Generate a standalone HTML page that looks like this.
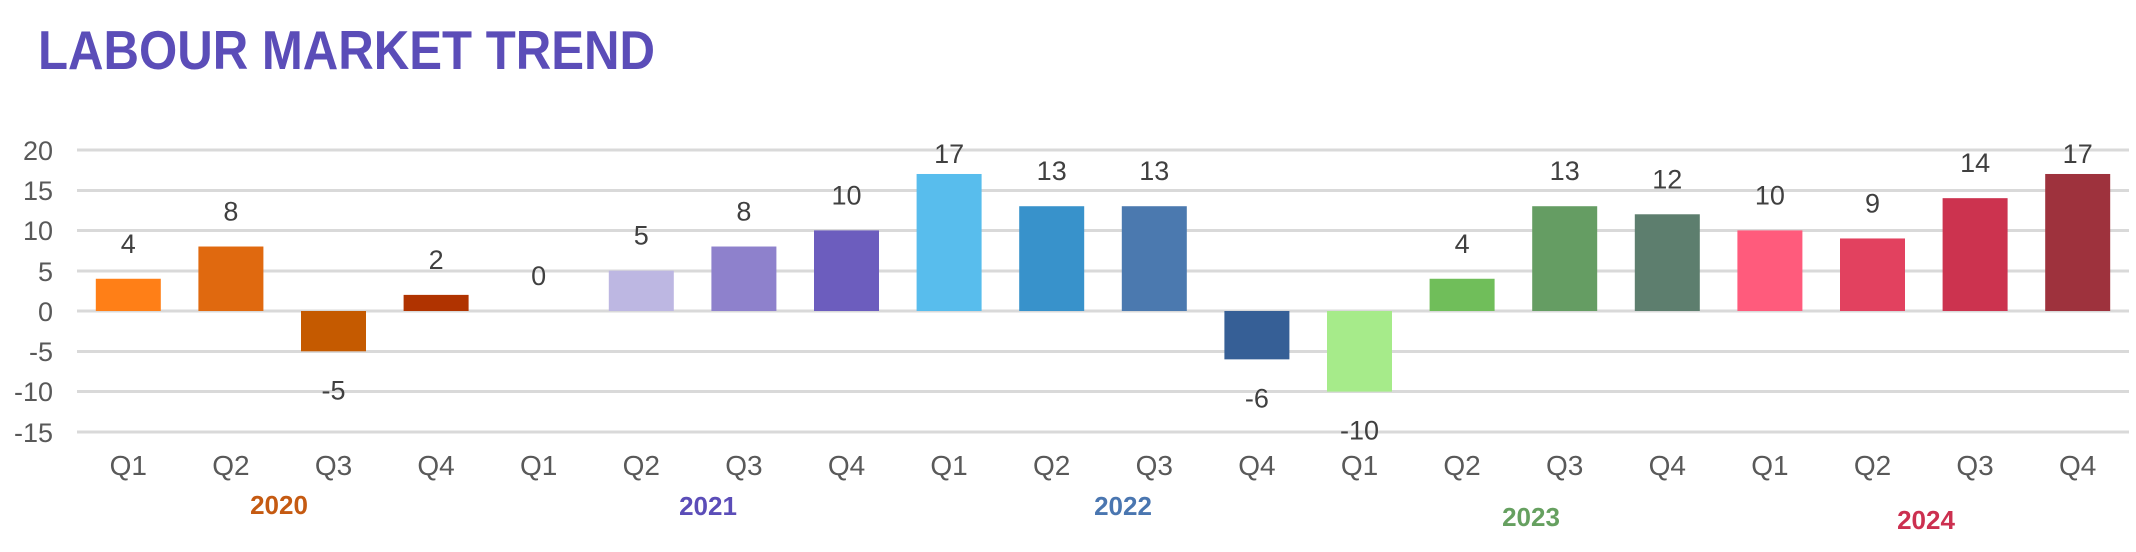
<!DOCTYPE html>
<html><head><meta charset="utf-8"><style>
html,body{margin:0;padding:0;background:#fff;}
svg{display:block;font-family:"Liberation Sans",Arial,sans-serif;}
</style></head><body>
<svg width="2136" height="552" viewBox="0 0 2136 552" xmlns="http://www.w3.org/2000/svg">
<text x="38" y="69" font-size="55" font-weight="bold" fill="#5B4DB8" textLength="617" lengthAdjust="spacingAndGlyphs">LABOUR MARKET TREND</text>
<g stroke="#d9d9d9" stroke-width="3">
<line x1="77" x2="2129" y1="150" y2="150"/>
<line x1="77" x2="2129" y1="190.5" y2="190.5"/>
<line x1="77" x2="2129" y1="230.5" y2="230.5"/>
<line x1="77" x2="2129" y1="271" y2="271"/>
<line x1="77" x2="2129" y1="311" y2="311"/>
<line x1="77" x2="2129" y1="351.5" y2="351.5"/>
<line x1="77" x2="2129" y1="391.5" y2="391.5"/>
<line x1="77" x2="2129" y1="432" y2="432"/>
</g>
<g font-size="27" fill="#595959" text-anchor="end">
<text x="53" y="160">20</text>
<text x="53" y="200">15</text>
<text x="53" y="240">10</text>
<text x="53" y="281">5</text>
<text x="53" y="321">0</text>
<text x="53" y="361">-5</text>
<text x="53" y="401">-10</text>
<text x="53" y="442">-15</text>
</g>
<g id="bars"></g>
<g id="labels" font-size="27" fill="#404040" text-anchor="middle"></g>
<g id="ticks" font-size="28" fill="#595959" text-anchor="middle"></g>
<g font-size="26" font-weight="bold" text-anchor="middle">
<text x="279" y="514" fill="#C55A11">2020</text>
<text x="708" y="515" fill="#5B4DB8">2021</text>
<text x="1123" y="515" fill="#4A76B0">2022</text>
<text x="1531" y="526" fill="#66A060">2023</text>
<text x="1926" y="529" fill="#CC3050">2024</text>
</g>
<script>
var v=[4,8,-5,2,0,5,8,10,17,13,13,-6,-10,4,13,12,10,9,14,17];
var c=["#FF7F17","#E0690F","#C55A00","#B03300","#CCCCCC","#BDB7E2","#8E81CC","#6C5DBE","#58BDED","#3892CB","#4B79AF","#365F96","#A6EB8A","#70BE5A","#659D63","#5D7E6E","#FF5B7C","#E2415F","#CC334F","#9E323D"];
var q=["Q1","Q2","Q3","Q4"];
var ns="http://www.w3.org/2000/svg";
var B=document.getElementById("bars"),L=document.getElementById("labels"),T=document.getElementById("ticks");
for(var i=0;i<20;i++){
 var cx=77+102.6*i+51.3, y0=311, y1=311-8.06*v[i];
 if(v[i]!=0){var r=document.createElementNS(ns,"rect");r.setAttribute("x",cx-32.5);r.setAttribute("width",65);r.setAttribute("y",Math.min(y0,y1));r.setAttribute("height",Math.abs(y1-y0));r.setAttribute("fill",c[i]);B.appendChild(r);}
 var ly = v[i]>=0 ? Math.max(153,y1-36) : y1+38;
 var t=document.createElementNS(ns,"text");t.setAttribute("x",cx);t.setAttribute("y",ly+10);t.textContent=v[i];L.appendChild(t);
 var k=document.createElementNS(ns,"text");k.setAttribute("x",cx);k.setAttribute("y",475);k.textContent=q[i%4];T.appendChild(k);
}
</script>
</svg>
</body></html>
